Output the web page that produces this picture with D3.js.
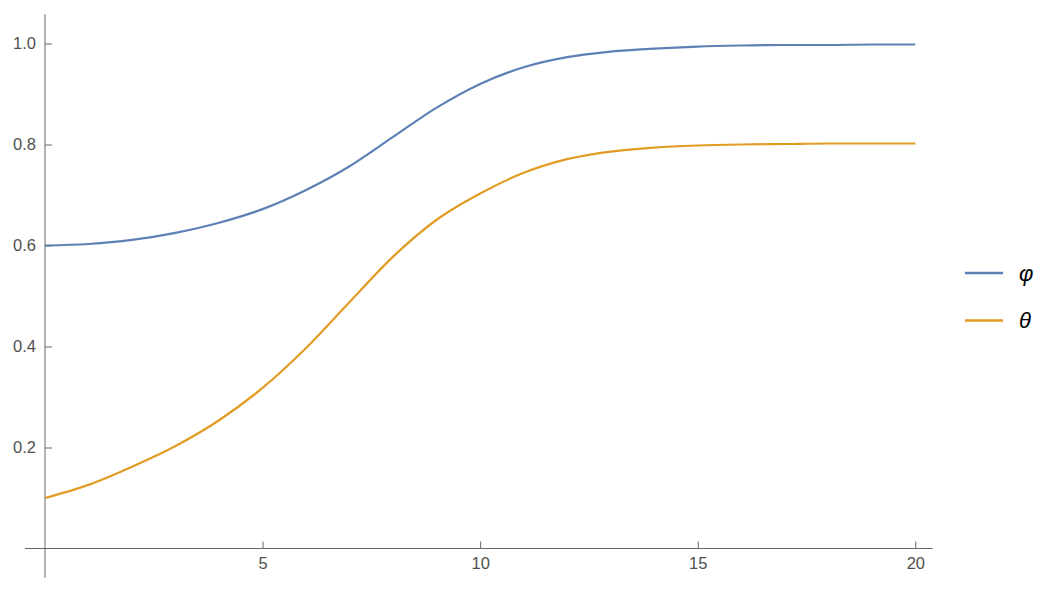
<!DOCTYPE html>
<html>
<head>
<meta charset="utf-8">
<script src="https://cdn.jsdelivr.net/npm/d3@7"></script>
<style>
  body { margin: 0; background: #fff; }
  svg { display: block; }
</style>
</head>
<body>
<div id="chart"></div>
<script>
// values at t = 0..20
var tValues = [0, 1, 2, 3, 4, 5, 6, 7, 8, 9, 10, 11, 12, 13, 14, 15, 16, 17, 18, 19, 20];
var phiValues = [0.600, 0.603, 0.611, 0.625, 0.645, 0.672, 0.710, 0.757, 0.815, 0.873, 0.920,
                 0.953, 0.973, 0.984, 0.990, 0.994, 0.996, 0.997, 0.997, 0.998, 0.998];
var thetaValues = [0.100, 0.126, 0.162, 0.203, 0.254, 0.318, 0.397, 0.488, 0.578, 0.651, 0.703,
                   0.744, 0.771, 0.786, 0.794, 0.798, 0.800, 0.801, 0.802, 0.802, 0.802];
var seriesNames = ["φ", "θ"];
var seriesColors = ["#5e81b5", "#e19c24"];
var xMajorTicks = [5, 10, 15, 20];
var yMajorTicks = [0.2, 0.4, 0.6, 0.8, 1.0];

var width = 1047, height = 594;

var x = d3.scaleLinear()
    .domain([0, 20])
    .range([45, 915.3]);

var y = d3.scaleLinear()
    .domain([0, 1])
    .range([548.5, 43.5]);

var svg = d3.select('#chart')
    .append('svg')
    .attr('width', width)
    .attr('height', height);

var axisColor = '#666';
var labelColor = '#4f4f4f';

// minor ticks
var xMinor = d3.range(1, 21).filter(function(d) { return d % 5 !== 0; });
var yMinor = d3.range(-1, 22).map(function(d) { return d * 0.05; })
    .filter(function(d) { return Math.abs(d) > 1e-9 && Math.abs(Math.round(d * 5) - d * 5) > 1e-6; });

var gx = svg.append('g')
    .attr('transform', 'translate(0,' + y(0) + ')');
gx.call(d3.axisBottom(x).tickValues(xMinor).tickSize(-4).tickFormat(''));
gx.call(d3.axisBottom(x).tickValues(xMajorTicks).tickSize(-7).tickPadding(9).tickFormat(d3.format('d')));

var gy = svg.append('g')
    .attr('transform', 'translate(' + x(0) + ',0)');
gy.call(d3.axisLeft(y).tickValues(yMinor).tickSize(-4).tickFormat(''));
gy.call(d3.axisLeft(y).tickValues(yMajorTicks).tickSize(-7).tickPadding(9).tickFormat(d3.format('.1f')));

svg.selectAll('.domain').remove();
svg.selectAll('.tick line').attr('stroke', axisColor);
svg.selectAll('.tick text')
    .attr('fill', labelColor)
    .style('font-family', '"Liberation Sans", Arial, sans-serif')
    .style('font-size', '16.5px');

// axis lines
svg.append('line')
    .attr('x1', x(-0.46)).attr('x2', x(20.4))
    .attr('y1', y(0)).attr('y2', y(0))
    .attr('stroke', axisColor);
svg.append('line')
    .attr('x1', x(0)).attr('x2', x(0))
    .attr('y1', y(-0.058)).attr('y2', y(1.058))
    .attr('stroke', axisColor);

// curves
var series = [phiValues, thetaValues];
var line = d3.line()
    .x(function(d, i) { return x(tValues[i]); })
    .y(function(d) { return y(d); })
    .curve(d3.curveMonotoneX);

series.forEach(function(vals, k) {
    svg.append('path')
        .datum(vals)
        .attr('d', line)
        .attr('fill', 'none')
        .attr('stroke', seriesColors[k])
        .attr('stroke-width', 2.2);
});

// legend
var legend = svg.append('g');
seriesNames.forEach(function(name, k) {
    var ly = 273 + k * 47.5;
    legend.append('line')
        .attr('x1', 965).attr('x2', 1003)
        .attr('y1', ly).attr('y2', ly)
        .attr('stroke', seriesColors[k])
        .attr('stroke-width', 2.5);
    legend.append('text')
        .attr('x', 1019)
        .attr('y', ly)
        .attr('dy', '0.35em')
        .attr('fill', '#000')
        .style('font-family', '"Liberation Sans", Arial, sans-serif')
        .style('font-style', 'italic')
        .style('font-size', '22px')
        .text(name);
});
</script>
</body>
</html>
